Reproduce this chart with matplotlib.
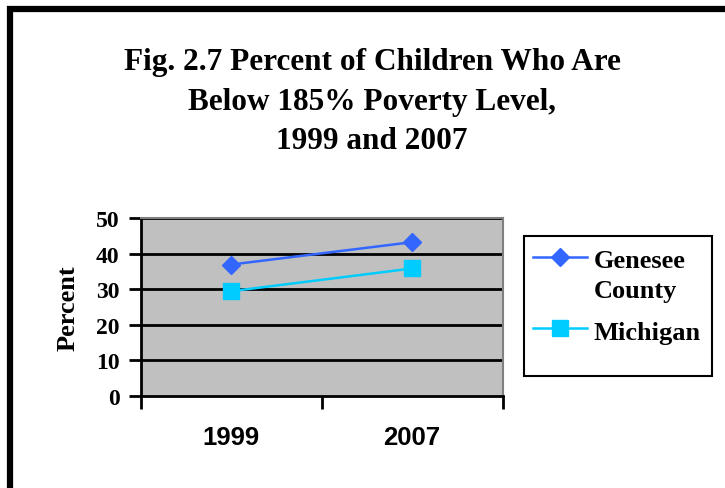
import matplotlib
matplotlib.use("Agg")
import matplotlib.pyplot as plt
from matplotlib.patches import Rectangle
from matplotlib.lines import Line2D

years = ["1999", "2007"]
genesee = [36.9, 43.2]
michigan = [29.4, 35.8]
series_names = ["Genesee\nCounty", "Michigan"]
title_lines = ["Fig. 2.7 Percent of Children Who Are", "Below 185% Poverty Level,", "1999 and 2007"]
y_ticks = [0, 10, 20, 30, 40, 50]

W, H = 725, 489
fig = plt.figure(figsize=(W / 100, H / 100), dpi=100)

serif = "Liberation Serif"
sans = "Liberation Sans"

# Outer frame (extends beyond right/bottom edges)
fig.patches.append(Rectangle((10 / W, -0.1), 1.2, 1 - 10 / H + 0.1, transform=fig.transFigure,
                             fill=False, edgecolor="black", linewidth=4.5, zorder=0))

# Title
for line, yb in zip(title_lines, [70, 110, 149]):
    fig.text(372 / W, 1 - yb / H, line, ha="center", va="baseline", fontsize=22.5,
             fontfamily=serif, fontweight="bold")

ax = fig.add_axes([140.5 / W, 1 - 396.7 / H, (502.7 - 140.5) / W, (396.7 - 219) / H])
ax.set_facecolor("#C0C0C0")

x = list(range(len(years)))
ax.plot(x, genesee, color="#3366FF", marker="D", markersize=9, linewidth=1.8,
        label=series_names[0], zorder=3, clip_on=False)
ax.plot(x, michigan, color="#00CCFF", marker="s", markersize=12, linewidth=1.8,
        label=series_names[1], zorder=3, clip_on=False)

ax.set_xlim(-0.5, len(years) - 0.5)
ax.set_ylim(0, 50)
ax.set_yticks(y_ticks)
for yv in y_ticks[1:]:
    ax.axhline(yv, color="black", linewidth=2, zorder=1)

ax.set_xticks([i - 0.5 for i in range(len(years) + 1)])
ax.set_xticklabels([])
ax.set_xticks(x, minor=True)
ax.set_xticklabels(years, minor=True, fontfamily=sans, fontweight="bold", fontsize=18.5)
ax.tick_params(axis="x", which="major", direction="out", length=9, width=2, color="black")
ax.tick_params(axis="x", which="minor", length=0, pad=21)
ax.tick_params(axis="y", direction="out", length=9, width=2, pad=6)
for lbl in ax.get_yticklabels():
    lbl.set_fontfamily(serif)
    lbl.set_fontweight("bold")
    lbl.set_fontsize(17)

for s in ["left", "bottom"]:
    ax.spines[s].set_color("black")
    ax.spines[s].set_linewidth(2)
for s in ["top", "right"]:
    ax.spines[s].set_color("#808080")
    ax.spines[s].set_linewidth(1.5)

ax.set_ylabel("Percent", fontfamily=serif, fontweight="bold", fontsize=19)
ax.yaxis.set_label_coords((80 - 140.5) / (502.7 - 140.5), 0.5)

# Legend box
lx0, lx1, ly0, ly1 = 524, 712, 237, 377
fig.patches.append(Rectangle((lx0 / W, 1 - ly1 / H), (lx1 - lx0) / W, (ly1 - ly0) / H,
                             transform=fig.transFigure, fill=True, facecolor="white",
                             edgecolor="black", linewidth=1.5, zorder=2))
entries = [("#3366FF", "D", 9, 258, 298), ("#00CCFF", "s", 12, 329, 340)]
for (col, mk, ms, yc, yb), name in zip(entries, series_names):
    fig.add_artist(Line2D([533 / W, 587 / W], [1 - yc / H, 1 - yc / H], transform=fig.transFigure,
                          color=col, linewidth=1.8, zorder=3))
    fig.add_artist(Line2D([560 / W], [1 - yc / H], transform=fig.transFigure, color=col,
                          marker=mk, markersize=ms, linestyle="none", zorder=4))
    fig.text(594 / W, 1 - yb / H, name, ha="left", va="baseline", fontsize=19,
             fontfamily=serif, fontweight="bold", linespacing=1.4, zorder=4)

fig.savefig("out.png", dpi=100)
